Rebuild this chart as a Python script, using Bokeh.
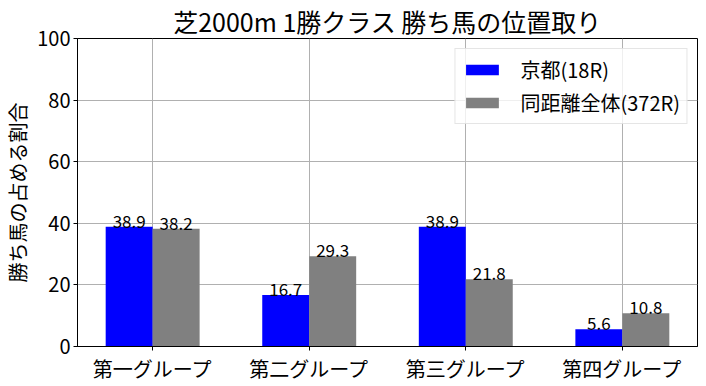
from bokeh.plotting import figure
from bokeh.models import ColumnDataSource, FixedTicker, Range1d, Legend, LegendItem, LabelSet
from bokeh.core.properties import value
from bokeh.embed import file_html
from bokeh.resources import INLINE

categories = ["第一グループ", "第二グループ", "第三グループ", "第四グループ"]
kyoto = [38.9, 16.7, 38.9, 5.6]
overall = [38.2, 29.3, 21.8, 10.8]
series_names = ["京都(18R)", "同距離全体(372R)"]
y_ticks = [0, 20, 40, 60, 80, 100]

FONT = "Noto Sans CJK JP"
bw = 0.3
xs = list(range(len(categories)))

p = figure(width=706, height=386, output_backend="svg", toolbar_location=None,
           x_range=Range1d(-0.48, 3.48), y_range=Range1d(0, 100),
           min_border_left=77, min_border_right=9, min_border_top=38, min_border_bottom=40)

src1 = ColumnDataSource(dict(x=[x - bw / 2 for x in xs], top=kyoto, lab=[f"{v:.1f}" for v in kyoto]))
src2 = ColumnDataSource(dict(x=[x + bw / 2 for x in xs], top=overall, lab=[f"{v:.1f}" for v in overall]))

r1 = p.vbar(x="x", top="top", width=bw, source=src1, fill_color="blue", line_color=None)
r2 = p.vbar(x="x", top="top", width=bw, source=src2, fill_color="gray", line_color=None)

for s in (src1, src2):
    p.add_layout(LabelSet(x="x", y="top", text="lab", source=s, text_align="center",
                          text_baseline="bottom", text_font=value(FONT),
                          text_font_size=value("17px"), text_color="black", y_offset=-1))

p.title.text = "芝2000m 1勝クラス 勝ち馬の位置取り"
p.title.align = "center"
p.title.text_font = FONT
p.title.text_font_size = "25px"
p.title.text_font_style = "normal"
p.title.text_color = "black"
p.title.standoff = 0
p.title.offset = 0

p.xaxis.ticker = FixedTicker(ticks=xs)
p.xaxis.major_label_overrides = {i: c for i, c in enumerate(categories)}
p.yaxis.ticker = FixedTicker(ticks=y_ticks)
for ax in (p.xaxis, p.yaxis):
    ax.major_label_text_font = FONT
    ax.major_label_text_font_size = "20px"
    ax.major_label_text_color = "black"
    ax.axis_line_color = "black"
    ax.major_tick_line_color = "black"
    ax.major_tick_in = 0
    ax.major_tick_out = 4
    ax.minor_tick_line_color = None
    ax.major_label_standoff = 3
p.yaxis.axis_label = "勝ち馬の占める割合"
p.yaxis.axis_label_text_font = FONT
p.yaxis.axis_label_text_font_size = "20px"
p.yaxis.axis_label_text_font_style = "normal"
p.yaxis.axis_label_text_color = "black"
p.yaxis.axis_label_standoff = 2

p.xgrid.ticker = FixedTicker(ticks=xs)
p.grid.grid_line_color = "#b0b0b0"
p.grid.grid_line_width = 1
p.outline_line_color = "black"
p.outline_line_alpha = 1

legend = Legend(items=[LegendItem(label=series_names[0], renderers=[r1]),
                       LegendItem(label=series_names[1], renderers=[r2])],
                location="top_right")
legend.label_text_font = FONT
legend.label_text_font_size = "20px"
legend.label_text_color = "black"
legend.glyph_width = 41
legend.glyph_height = 13
legend.spacing = 4
legend.padding = 6
legend.margin = 10
legend.border_line_color = "#cccccc"
legend.background_fill_alpha = 0.8
legend.label_standoff = 18
p.add_layout(legend)

open("out.html", "w").write(file_html(p, INLINE))
